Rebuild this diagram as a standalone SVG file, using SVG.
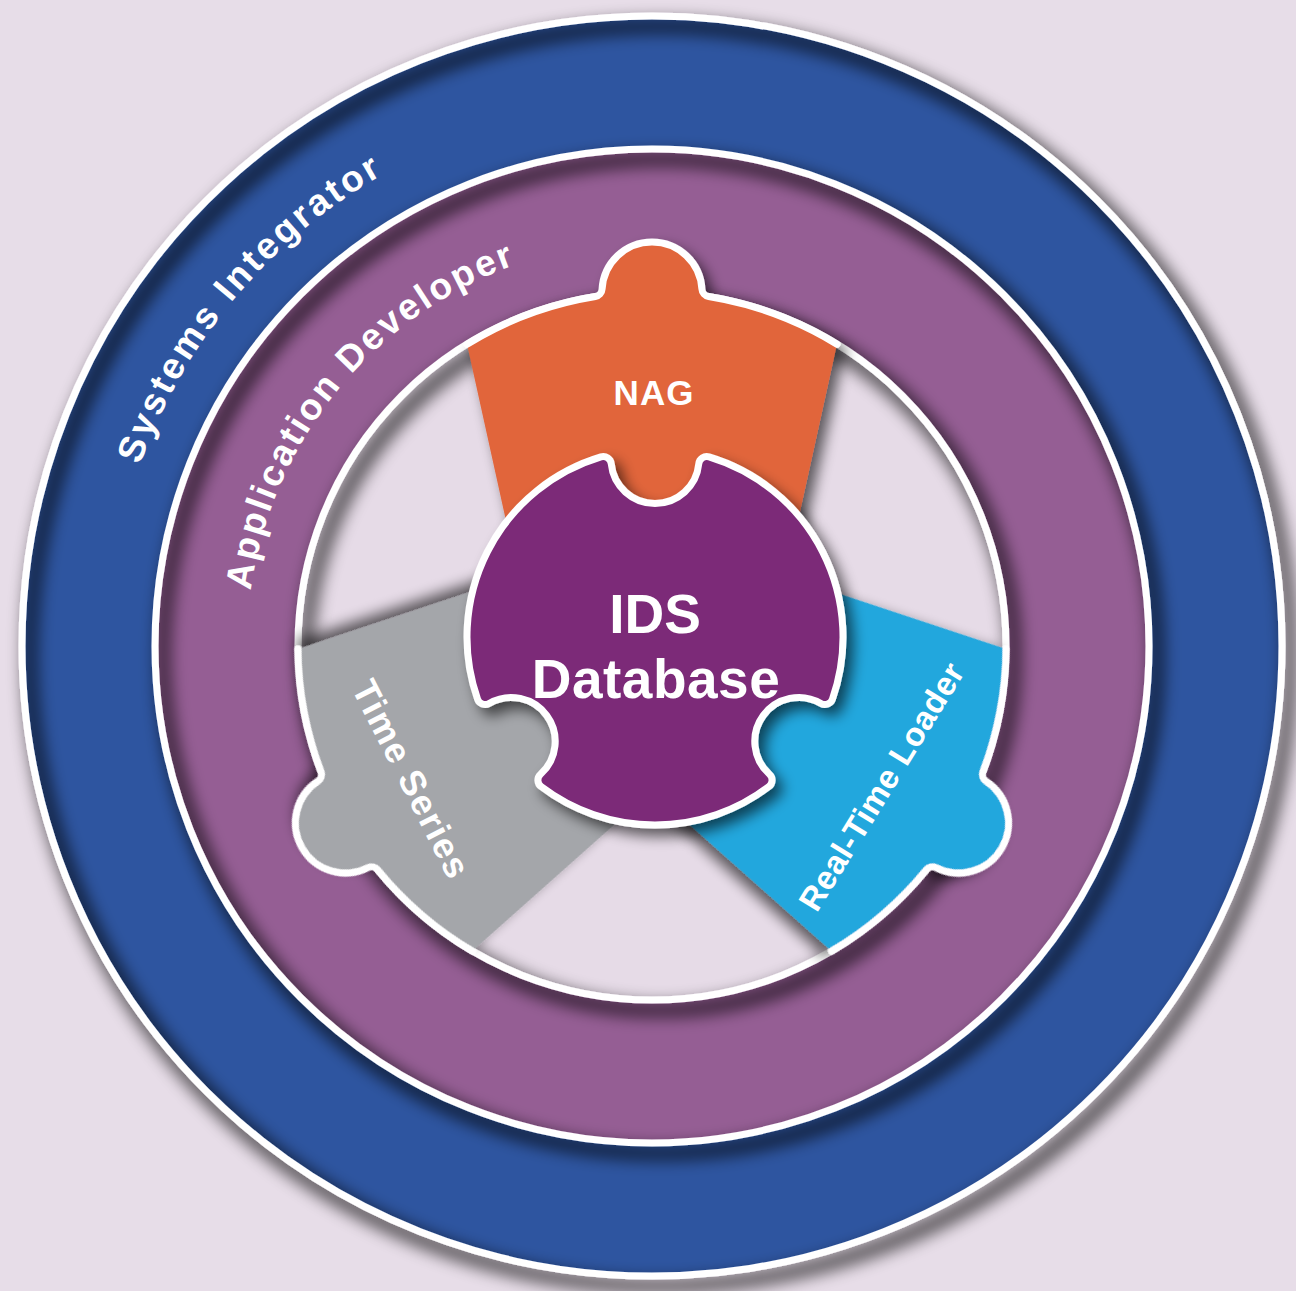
<svg xmlns="http://www.w3.org/2000/svg" width="1296" height="1291" viewBox="0 0 1296 1291">
<style>
.lbl{font-family:"Liberation Sans",Arial,Helvetica,sans-serif;font-weight:bold;fill:#ffffff}
.rim{fill:none;stroke:#ffffff;stroke-width:7}
.edge{fill:none;stroke:#ffffff;stroke-width:7;stroke-linejoin:round;stroke-linecap:round}
</style>
<defs>
<filter id="rimShadow" x="-10%" y="-10%" width="125%" height="125%">
<feMorphology in="SourceAlpha" operator="dilate" radius="4" result="d"/>
<feGaussianBlur in="d" stdDeviation="8" result="b"/>
<feOffset in="b" dx="8" dy="10" result="o"/>
<feComponentTransfer in="o" result="s"><feFuncA type="linear" slope="0.6"/></feComponentTransfer>
<feMerge><feMergeNode in="s"/><feMergeNode in="SourceGraphic"/></feMerge>
</filter>
<filter id="pieceShadow" x="-20%" y="-20%" width="150%" height="150%">
<feGaussianBlur in="SourceAlpha" stdDeviation="7" result="b"/>
<feOffset in="b" dx="7" dy="8" result="o"/>
<feComponentTransfer in="o" result="s"><feFuncA type="linear" slope="0.6"/></feComponentTransfer>
<feMerge><feMergeNode in="s"/><feMergeNode in="SourceGraphic"/></feMerge>
</filter>
<path id="arcSI" d="M 141.7,831.7 A 543 543 0 0 1 746.3,111.2"/>
<path id="arcAD" d="M 273.4,789.8 A 405 405 0 0 1 716.8,246.2"/>
<path id="pieceWide" d="M -138.25,-90 L -184.96,-301.83 A 354 354 0 0 1 -56.62,-349.44 A 8 8 0 0 0 -49.92,-356.88 A 50 50 0 0 1 49.92,-356.88 A 8 8 0 0 0 56.62,-349.44 A 354 354 0 0 1 184.96,-301.83 L 138.25,-90 Z"/>
<path id="edgeWide" d="M -184.96,-301.83 A 354 354 0 0 1 -56.62,-349.44 A 8 8 0 0 0 -49.92,-356.88 A 50 50 0 0 1 49.92,-356.88 A 8 8 0 0 0 56.62,-349.44 A 354 354 0 0 1 184.96,-301.83"/>
<path id="pieceNarrow" d="M -129.33,-90 L -174.32,-308.11 A 354 354 0 0 1 -56.62,-349.44 A 8 8 0 0 0 -49.92,-356.88 A 50 50 0 0 1 49.92,-356.88 A 8 8 0 0 0 56.62,-349.44 A 354 354 0 0 1 174.32,-308.11 L 129.33,-90 Z"/>
<path id="edgeNarrow" d="M -174.32,-308.11 A 354 354 0 0 1 -56.62,-349.44 A 8 8 0 0 0 -49.92,-356.88 A 50 50 0 0 1 49.92,-356.88 A 8 8 0 0 0 56.62,-349.44 A 354 354 0 0 1 174.32,-308.11"/>
</defs>

<rect x="0" y="0" width="1296" height="1291" fill="#e7dde8"/>

<g id="systems-integrator">
<circle cx="652" cy="646" r="630" fill="#2e55a0"/>
<circle class="rim" cx="652" cy="646" r="630" filter="url(#rimShadow)"/>
<text class="lbl" font-size="37" letter-spacing="3"><textPath href="#arcSI" startOffset="50%" text-anchor="middle">Systems Integrator</textPath></text>
</g>

<g id="application-developer">
<circle cx="652" cy="646" r="497" fill="#955e94"/>
<circle class="rim" cx="652" cy="646" r="497" filter="url(#rimShadow)"/>
<text class="lbl" font-size="37" letter-spacing="2.5"><textPath href="#arcAD" startOffset="50%" text-anchor="middle">Application Developer</textPath></text>
</g>

<g id="core-area">
<circle cx="652" cy="646" r="354" fill="#e6dbe7"/>
<circle class="rim" cx="652" cy="646" r="354" filter="url(#rimShadow)"/>
</g>

<g id="nag">
<g filter="url(#pieceShadow)" transform="translate(652,646)">
<use href="#pieceWide" fill="#e1653b"/>
<use href="#edgeWide" class="edge"/>
</g>
<text class="lbl" x="654" y="405" font-size="35" text-anchor="middle" letter-spacing="1">NAG</text>
</g>

<g id="time-series">
<g filter="url(#pieceShadow)" transform="translate(652,646) rotate(-120)">
<use href="#pieceNarrow" fill="#a4a6aa"/>
<use href="#edgeNarrow" class="edge"/>
</g>
<text class="lbl" font-size="36" letter-spacing="1.5" text-anchor="middle" transform="translate(400.4,785) rotate(63)">Time Series</text>
</g>

<g id="real-time-loader">
<g filter="url(#pieceShadow)" transform="translate(652,646) rotate(120)">
<use href="#pieceNarrow" fill="#20a7dd"/>
<use href="#edgeNarrow" class="edge"/>
</g>
<text class="lbl" font-size="33" letter-spacing="0.5" text-anchor="middle" transform="translate(891.3,792.5) rotate(-58.4)">Real-Time Loader</text>
</g>

<g id="ids-database">
<path filter="url(#pieceShadow)" fill="#7b2a78" stroke="#ffffff" stroke-width="7" stroke-linejoin="round" d="M 709.05,456.94 A 188 188 0 0 1 832.45,699.11 A 8 8 0 0 1 820.90,703.42 A 44 44 0 0 0 769.45,774.25 A 8 8 0 0 1 768.93,786.55 A 188 188 0 0 1 541.07,786.55 A 8 8 0 0 1 540.54,774.25 A 44 44 0 0 0 489.09,703.42 A 8 8 0 0 1 477.55,699.11 A 188 188 0 0 1 600.95,456.94 A 8 8 0 0 1 611.21,463.74 A 44 44 0 0 0 698.79,463.74 A 8 8 0 0 1 709.05,456.94 Z"/>
<text class="lbl" x="655" y="633" font-size="55" text-anchor="middle">IDS</text>
<text class="lbl" x="656" y="698" font-size="55" text-anchor="middle" letter-spacing="0.5">Database</text>
</g>

<g id="connectors"/>
</svg>
